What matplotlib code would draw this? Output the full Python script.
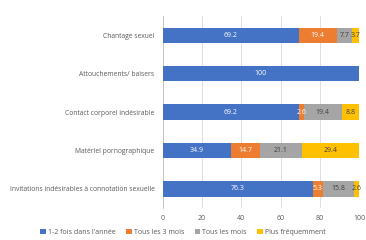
import numpy as np
import matplotlib.pyplot as plt

categories = ["Chantage sexuel", "Attouchements/ baisers", "Contact corporel indésirable",
              "Matériel pornographique", "Invitations indésirables à connotation sexuelle"]
series_names = ["1-2 fois dans l'année", "Tous les 3 mois", "Tous les mois", "Plus fréquemment"]
une_deux = [69.2, 100, 69.2, 34.9, 76.3]
trois_mois = [19.4, 0, 2.6, 14.7, 5.3]
tous_mois = [7.7, 0, 19.4, 21.1, 15.8]
plus_freq = [3.7, 0, 8.8, 29.4, 2.6]
colors = ["#4472C4", "#ED7D31", "#A5A5A5", "#FFC000"]
label_colors = ["white", "white", "#404040", "#404040"]

plt.rcParams['font.family'] = ['Open Sans', 'DejaVu Sans']

fig = plt.figure(figsize=(3.66, 2.40), dpi=100)
ax = fig.add_axes([0.445, 0.133, 0.536, 0.8])

y = np.arange(len(categories))
left = np.zeros(len(categories))
for vals, name, c, lc in zip([une_deux, trois_mois, tous_mois, plus_freq], series_names, colors, label_colors):
    vals = np.array(vals)
    bars = ax.barh(y, vals, left=left, height=0.4, color=c, label=name, zorder=3)
    for b, v in zip(bars, vals):
        if v > 0:
            ax.text(b.get_x() + b.get_width() / 2, b.get_y() + b.get_height() / 2, f"{v:g}",
                    ha="center", va="center", fontsize=5, color=lc, zorder=4)
    left += vals

ax.set_ylim(len(categories) - 0.5, -0.5)
ax.set_xlim(0, 100)
ax.set_yticks(y)
ax.set_yticklabels(categories, fontsize=4.9, color="#595959")
ax.set_xticks(range(0, 101, 20))
ax.tick_params(axis="x", labelsize=5, colors="#595959", length=0, pad=5)
ax.tick_params(axis="y", length=0, pad=6)
ax.grid(axis="x", color="#D9D9D9", linewidth=0.6, zorder=0)
for s in ["top", "right", "bottom"]:
    ax.spines[s].set_visible(False)
ax.spines["left"].set_color("#BFBFBF")
ax.spines["left"].set_linewidth(0.6)

fig.legend(loc="lower center", bbox_to_anchor=(0.5, -0.01), ncol=4, fontsize=5, frameon=False,
           handlelength=0.8, handleheight=0.8, handletextpad=0.3, columnspacing=1.5,
           labelcolor="#595959")

fig.savefig("out.png", dpi=100)
